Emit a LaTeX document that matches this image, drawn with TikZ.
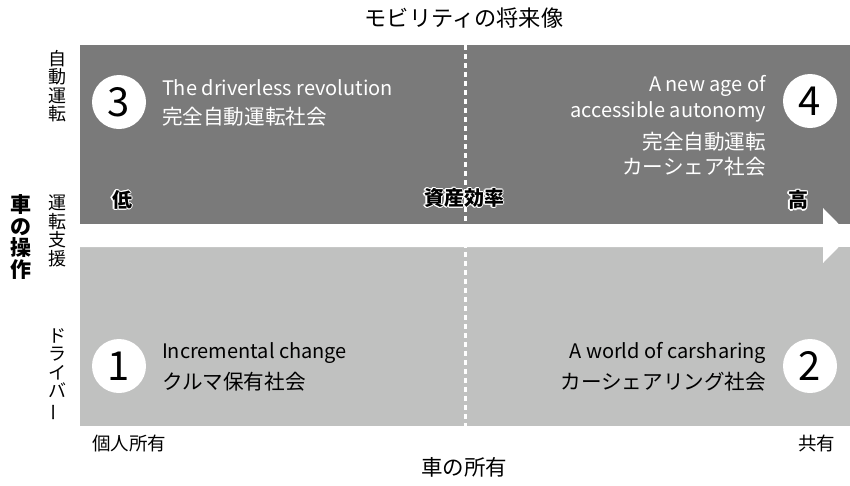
\documentclass[tikz,border=0pt]{standalone}
\usepackage{fontspec}
\setmainfont{Noto Sans CJK JP}
\definecolor{darkq}{HTML}{7A7A7A}
\definecolor{lightq}{HTML}{C0C1C0}
\tikzset{
  lbl/.style={inner sep=0pt, outer sep=0pt},
  numcircle/.style={circle, fill=white, minimum size=54pt, inner sep=0pt, font=\fontsize{40}{40}\selectfont},
  entext/.style={lbl, font=\fontsize{20}{20}\selectfont},
  jptext/.style={lbl, font=\fontsize{20.6}{20.6}\selectfont},
  vstack/.style={lbl, align=center, font=\fontsize{18}{18.5}\selectfont},
  axis/.style={lbl, font=\fontsize{18.5}{18.5}\selectfont},
  halo/.style={lbl, font=\bfseries\fontsize{20}{20}\selectfont},
}
\newcommand\halonode[3]{%
  \foreach \a in {0,45,...,315}{\node[halo, text=white, shift={(\a:1.4pt)}] at (#2) {#3};}
  \node[halo, text=black] (#1) at (#2) {#3};}
\begin{document}
\begin{tikzpicture}[x=1pt,y=-1pt]
\useasboundingbox (0,0) rectangle (850,485);
% quadrants
\fill[darkq] (80,45) rectangle (850,224);
\fill[lightq] (80,247) rectangle (850,426);
% arrow
\fill[white] (80,224) -- (823,224) -- (823,208) -- (850,235.5) -- (823,263) -- (823,247) -- (80,247) -- cycle;
% divider
\draw[white, line width=3pt, dash pattern=on 5pt off 4pt] (465,45) -- (465,426);
% title
\node[lbl, font=\fontsize{22.2}{22.2}\selectfont] (title) at (464,18) {モビリティの将来像};
% left labels
\node[lbl, align=center, font=\bfseries\fontsize{21}{21.5}\selectfont] (op) at (21,237) {車\\の\\操\\作};
\node[vstack] (auto) at (57,86) {自\\動\\運\\転};
\node[vstack] (assist) at (57,231) {運\\転\\支\\援};
\node[vstack] (driver) at (57,375) {ド\\ラ\\イ\\バ\\\rotatebox[origin=c]{90}{ー}};
% halo labels
\halonode{low}{122,200}{低}
\halonode{eff}{464,198}{資産効率}
\halonode{high}{798,200}{高}
% circles
\node[numcircle] (c3) at (119,102) {3};
\node[numcircle] (c4) at (810,101) {4};
\node[numcircle] (c1) at (119,366) {1};
\node[numcircle] (c2) at (810,366) {2};
% quadrant texts
\node[entext, text=white, anchor=west] (t3a) at (162,88) {The driverless revolution};
\node[jptext, text=white, anchor=west] (t3b) at (162,117) {完全自動運転社会};
\node[entext, text=white, anchor=east] (t4a) at (766,86) {A new age of};
\node[entext, text=white, anchor=east] (t4b) at (766,112) {accessible autonomy};
\node[jptext, text=white, anchor=east] (t4c) at (766,142) {完全自動運転};
\node[jptext, text=white, anchor=east] (t4d) at (766,167) {カーシェア社会};
\node[entext, anchor=west] (t1a) at (162,353) {Incremental change};
\node[jptext, anchor=west] (t1b) at (162,382) {クルマ保有社会};
\node[entext, anchor=east] (t2a) at (766,353) {A world of carsharing};
\node[jptext, anchor=east] (t2b) at (766,382) {カーシェアリング社会};
% bottom labels
\node[axis, anchor=west] (own) at (92,443) {個人所有};
\node[axis, anchor=east] (share) at (835,443) {共有};
\node[lbl, font=\fontsize{21.5}{21.5}\selectfont] (owner) at (464,467) {車の所有};
\end{tikzpicture}
\end{document}
